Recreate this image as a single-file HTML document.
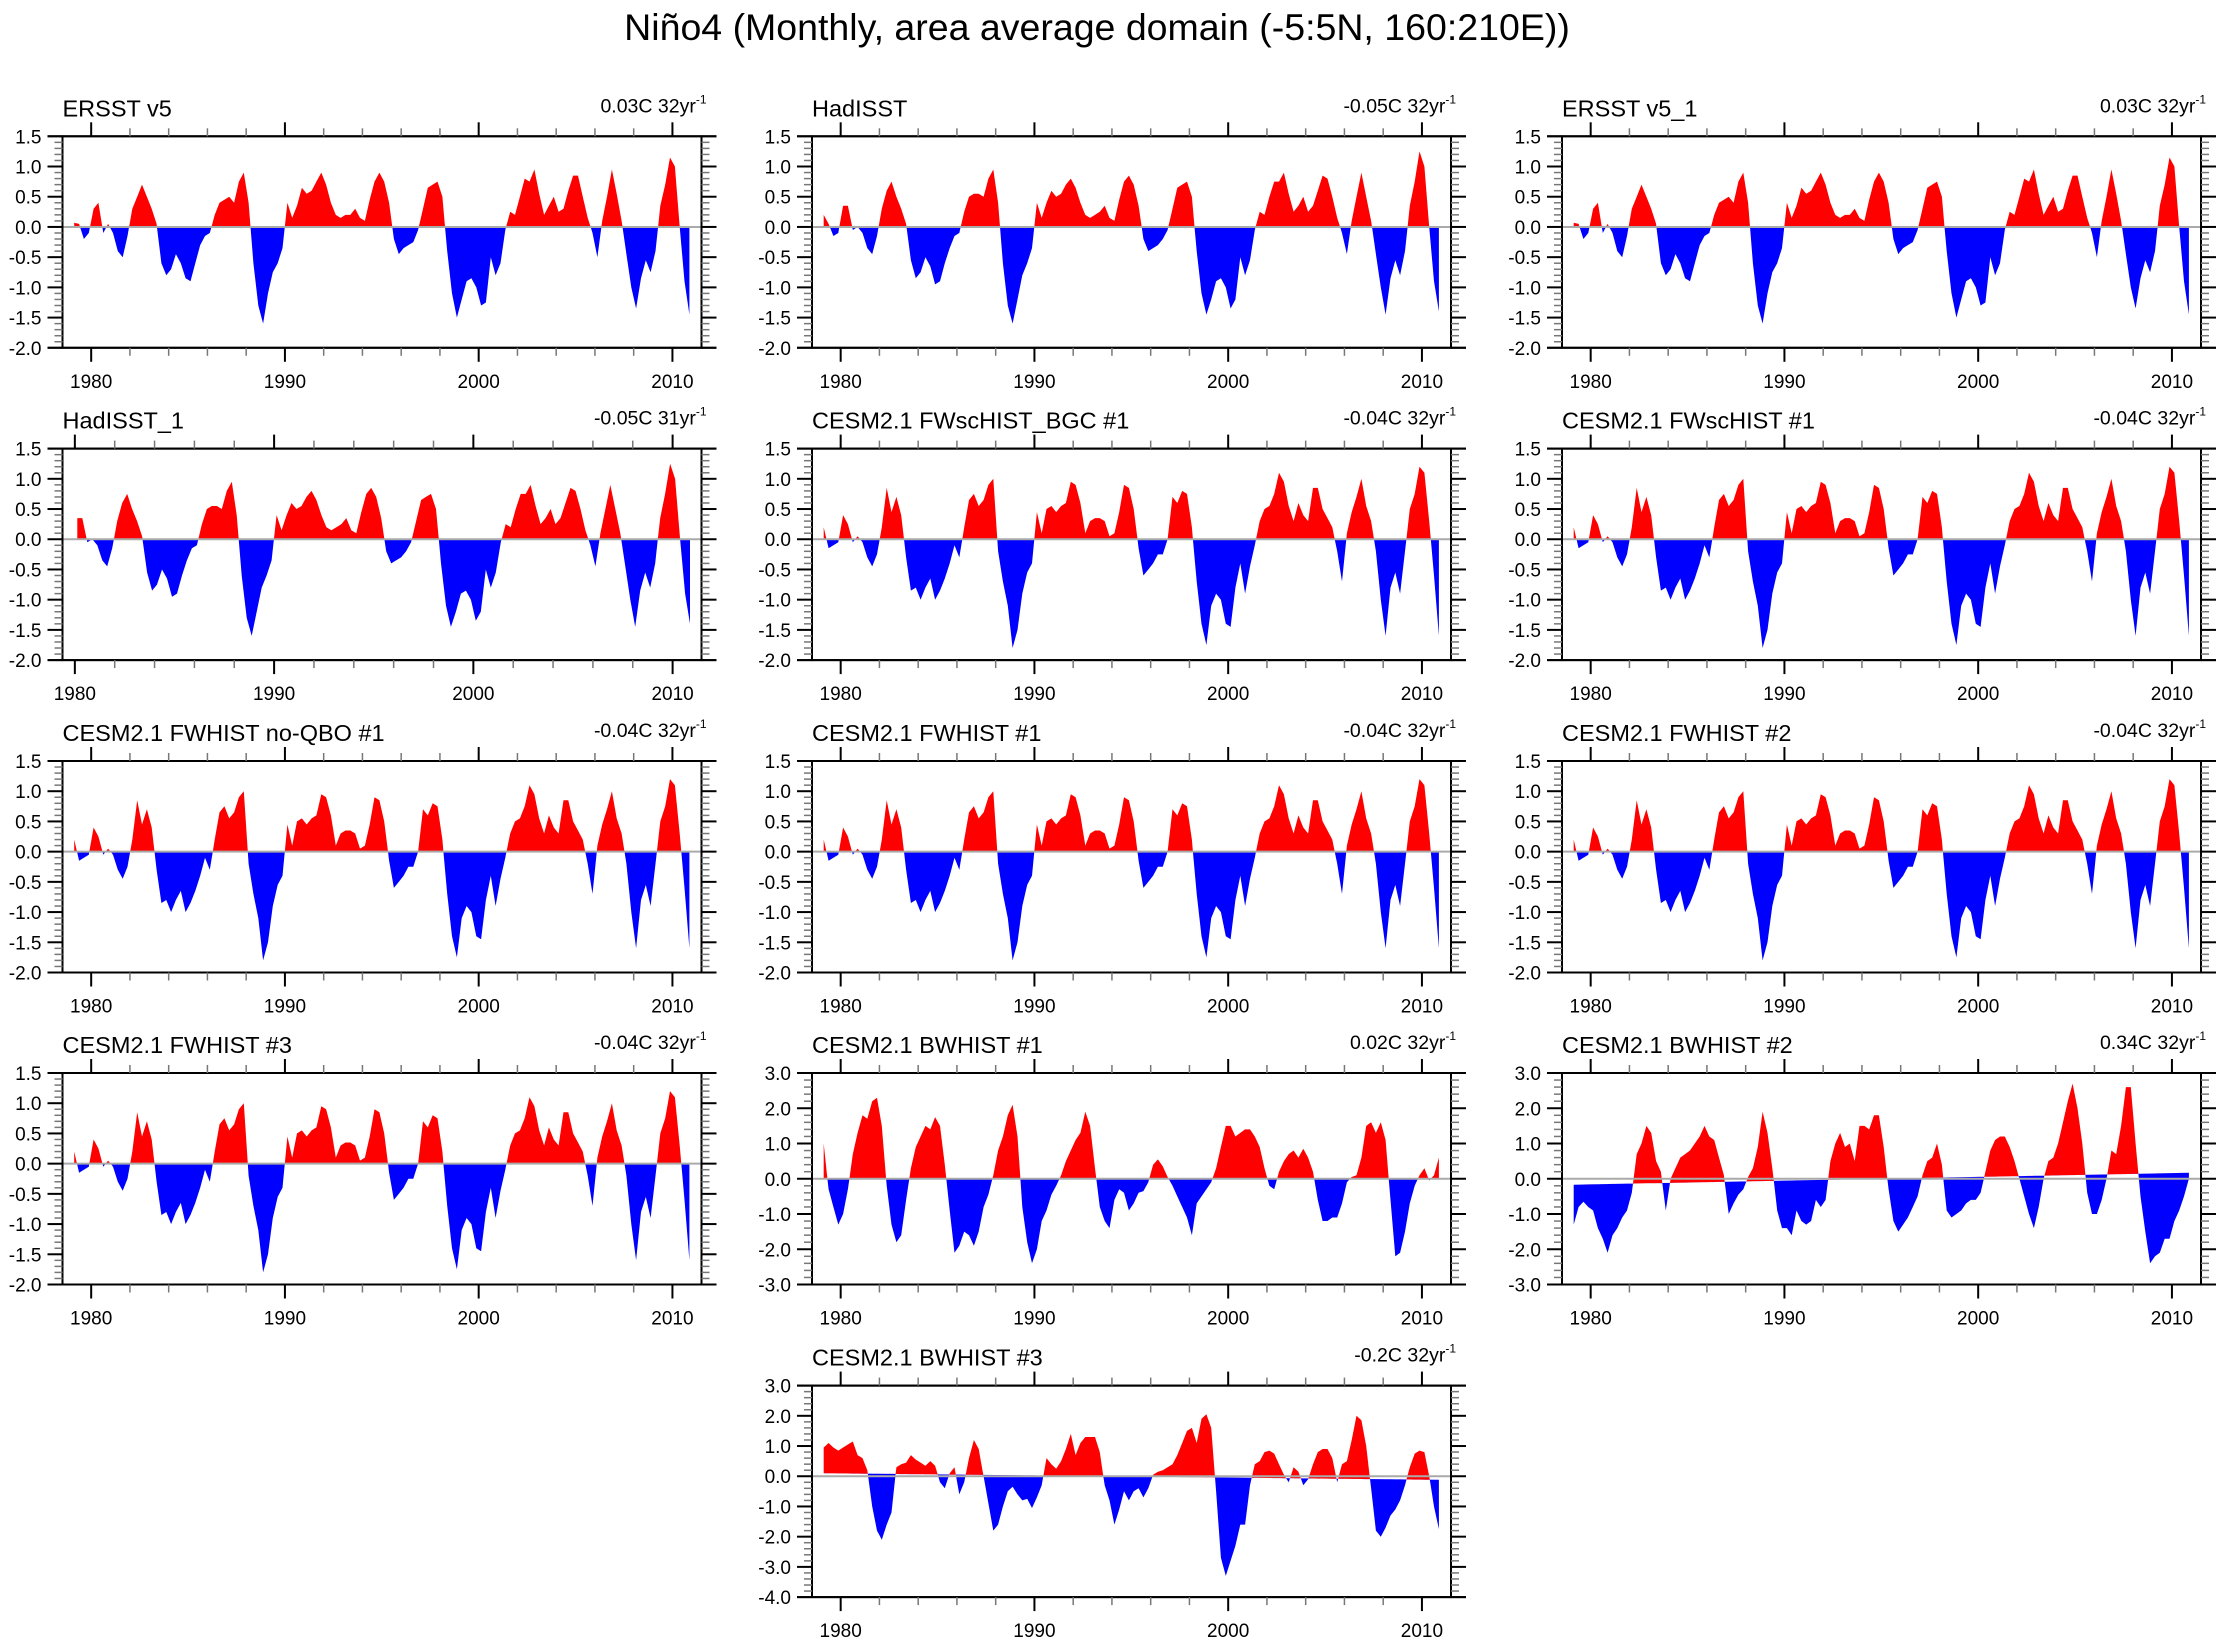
<!DOCTYPE html>
<html><head><meta charset="utf-8"><title>Niño4 monthly</title>
<style>
html,body{margin:0;padding:0;background:#fff;}
svg{display:block;font-family:"Liberation Sans",Arial,sans-serif;}
</style></head>
<body>
<svg id="fig" width="2226" height="1647" viewBox="0 0 2226 1647" xmlns="http://www.w3.org/2000/svg">
<rect x="0" y="0" width="2226" height="1647" fill="#fff"/>
<text x="1097" y="40" text-anchor="middle" font-size="37.5" fill="#000">Niño4 (Monthly, area average domain (-5:5N, 160:210E))</text>
</svg>
<script>
// quarterly values (Jan-Mar, Apr-Jun, Jul-Sep, Oct-Dec), 1979-2010
const ersst = [0.07,0.05,-0.2,-0.1, 0.3,0.4,-0.1,0.05, -0.1,-0.4,-0.5,-0.15, 0.3,0.5,0.7,0.5, 0.3,0.05,-0.6,-0.8,
 -0.7,-0.45,-0.6,-0.85, -0.9,-0.6,-0.3,-0.15, -0.1,0.2,0.4,0.45, 0.5,0.4,0.75,0.9, 0.4,-0.6,-1.3,-1.6,
 -1.1,-0.75,-0.6,-0.35, 0.4,0.15,0.35,0.65, 0.55,0.6,0.75,0.9, 0.7,0.4,0.2,0.15, 0.2,0.2,0.3,0.15,
 0.1,0.45,0.75,0.9, 0.75,0.4,-0.2,-0.45, -0.35,-0.3,-0.25,-0.05, 0.3,0.65,0.7,0.75, 0.5,-0.4,-1.1,-1.5,
 -1.2,-0.9,-0.85,-1.0, -1.3,-1.25,-0.5,-0.8, -0.6,-0.05,0.25,0.2, 0.5,0.8,0.75,0.95, 0.55,0.2,0.35,0.5,
 0.25,0.3,0.6,0.85, 0.85,0.5,0.15,-0.1, -0.5,0.1,0.5,0.95, 0.55,0.1,-0.45,-1.0, -1.35,-0.85,-0.55,-0.75,
 -0.4,0.35,0.7,1.15, 1.0,0.0,-0.9,-1.45];
const hadisst = [0.2,0.05,-0.15,-0.1, 0.35,0.35,-0.05,0.0, -0.1,-0.35,-0.45,-0.15, 0.3,0.6,0.75,0.5, 0.3,0.05,-0.55,-0.85,
 -0.75,-0.5,-0.65,-0.95, -0.9,-0.6,-0.35,-0.15, -0.1,0.25,0.5,0.55, 0.55,0.5,0.8,0.95, 0.4,-0.6,-1.3,-1.6,
 -1.2,-0.8,-0.6,-0.35, 0.4,0.15,0.4,0.6, 0.5,0.55,0.7,0.8, 0.65,0.4,0.2,0.15, 0.2,0.25,0.35,0.15,
 0.1,0.45,0.75,0.85, 0.7,0.35,-0.2,-0.4, -0.35,-0.3,-0.2,-0.05, 0.3,0.65,0.7,0.75, 0.5,-0.4,-1.1,-1.45,
 -1.2,-0.9,-0.85,-1.0, -1.35,-1.2,-0.5,-0.8, -0.55,-0.05,0.25,0.2, 0.5,0.75,0.75,0.9, 0.55,0.25,0.35,0.5,
 0.25,0.35,0.6,0.85, 0.8,0.5,0.15,-0.1, -0.45,0.1,0.5,0.9, 0.5,0.1,-0.45,-1.0, -1.45,-0.85,-0.55,-0.8,
 -0.4,0.35,0.75,1.25, 1.0,0.0,-0.9,-1.4];
const fwhist = [0.2,-0.15,-0.1,-0.05, 0.4,0.25,-0.05,0.05, -0.05,-0.3,-0.45,-0.25, 0.2,0.85,0.45,0.7, 0.4,-0.3,-0.85,-0.8,
 -1.0,-0.8,-0.65,-1.0, -0.85,-0.65,-0.4,-0.1, -0.3,0.2,0.65,0.75, 0.55,0.65,0.9,1.0, -0.2,-0.7,-1.1,-1.8,
 -1.5,-0.9,-0.55,-0.4, 0.45,0.1,0.5,0.55, 0.45,0.55,0.6,0.95, 0.9,0.6,0.1,0.3, 0.35,0.35,0.3,0.05,
 0.1,0.45,0.9,0.85, 0.5,-0.15,-0.6,-0.5, -0.4,-0.25,-0.25,0.0, 0.7,0.6,0.8,0.75, 0.2,-0.7,-1.4,-1.75,
 -1.1,-0.9,-1.0,-1.4, -1.45,-0.8,-0.4,-0.9, -0.45,-0.1,0.3,0.5, 0.55,0.75,1.1,0.95, 0.55,0.3,0.6,0.4,
 0.3,0.85,0.85,0.5, 0.35,0.2,-0.2,-0.7, 0.1,0.45,0.7,1.0, 0.55,0.3,-0.2,-1.0, -1.6,-0.8,-0.55,-0.9,
 -0.2,0.5,0.75,1.2, 1.1,0.3,-0.6,-1.6];
const bwhist1 = [1.0,-0.3,-0.8,-1.3, -1.0,-0.3,0.7,1.3, 1.8,1.7,2.2,2.3, 1.5,-0.2,-1.3,-1.8, -1.6,-0.6,0.3,0.9,
 1.2,1.5,1.4,1.75, 1.5,0.4,-0.9,-2.1, -1.9,-1.5,-1.6,-1.9, -1.5,-0.8,-0.45,0.1, 0.8,1.2,1.8,2.1,
 1.2,-0.8,-1.8,-2.4, -2.0,-1.2,-0.9,-0.45, -0.2,0.1,0.5,0.8, 1.1,1.3,1.9,1.5, 0.3,-0.8,-1.2,-1.4,
 -0.6,-0.3,-0.4,-0.9, -0.7,-0.4,-0.35,-0.1, 0.4,0.55,0.35,0.05, -0.2,-0.5,-0.8,-1.1, -1.6,-0.7,-0.5,-0.3,
 -0.1,0.3,0.9,1.5, 1.5,1.2,1.3,1.4, 1.4,1.2,0.9,0.3, -0.2,-0.3,0.2,0.5, 0.7,0.8,0.6,0.85,
 0.6,0.2,-0.6,-1.2, -1.2,-1.1,-1.1,-0.7, -0.1,0.05,0.1,0.6, 1.5,1.6,1.3,1.6, 1.1,-0.6,-2.2,-2.1,
 -1.5,-0.7,-0.2,0.1, 0.3,-0.05,0.1,0.6];
const bwhist2 = [-1.3,-0.8,-0.65,-0.8, -0.9,-1.4,-1.7,-2.1, -1.6,-1.4,-1.1,-0.9, -0.4,0.7,1.0,1.5, 1.3,0.5,0.2,-0.9,
 0.0,0.3,0.6,0.7, 0.8,1.0,1.2,1.5, 1.2,1.1,0.6,0.1, -1.0,-0.7,-0.45,-0.3, 0.05,0.3,0.9,1.9,
 1.3,0.3,-0.9,-1.4, -1.4,-1.6,-0.9,-1.2, -1.3,-1.2,-0.6,-0.8, -0.6,0.5,1.0,1.3, 0.9,1.0,0.5,1.5,
 1.5,1.4,1.8,1.8, 0.9,-0.3,-1.2,-1.5, -1.3,-1.1,-0.8,-0.5, 0.1,0.5,0.6,1.0, 0.4,-0.9,-1.1,-1.0,
 -0.9,-0.7,-0.6,-0.6, -0.4,0.2,0.8,1.1, 1.2,1.2,0.9,0.5, 0.0,-0.5,-1.0,-1.4, -0.8,0.0,0.5,0.6,
 1.0,1.6,2.2,2.7, 2.0,1.0,-0.4,-1.0, -1.0,-0.6,0.0,0.8, 0.7,1.5,2.6,2.6, 1.0,-0.5,-1.5,-2.4,
 -2.2,-2.1,-1.7,-1.7, -1.2,-0.9,-0.5,0.0];
const bwhist3 = [0.95,1.1,0.95,0.85, 0.95,1.05,1.15,0.7, 0.6,0.2,-1.0,-1.8, -2.1,-1.6,-1.2,0.3, 0.4,0.45,0.7,0.55,
 0.45,0.35,0.5,0.35, -0.2,-0.4,0.1,0.3, -0.6,-0.2,0.6,1.2, 0.9,0.0,-0.9,-1.8, -1.6,-1.0,-0.5,-0.35,
 -0.6,-0.8,-0.75,-1.05, -0.7,-0.3,0.6,0.4, 0.25,0.5,0.9,1.4, 0.7,1.1,1.3,1.3, 1.3,0.8,-0.3,-0.8,
 -1.6,-1.1,-0.5,-0.8, -0.5,-0.4,-0.7,-0.4, 0.05,0.15,0.2,0.3, 0.4,0.7,1.1,1.5, 1.6,1.1,1.9,2.05,
 1.6,-0.5,-2.7,-3.3, -2.8,-2.3,-1.6,-1.6, -0.3,0.4,0.5,0.8, 0.85,0.75,0.4,0.05, -0.2,0.3,0.15,-0.3,
 -0.1,0.4,0.8,0.9, 0.9,0.6,-0.2,0.4, 0.5,1.2,2.0,1.85, 1.0,-0.4,-1.8,-2.0, -1.7,-1.3,-1.1,-0.8,
 -0.3,0.3,0.75,0.85, 0.8,0.0,-1.0,-1.75];
const obsTicks = [-2.0,-1.5,-1.0,-0.5,0.0,0.5,1.0,1.5];
const bwTicks = [-3.0,-2.0,-1.0,0.0,1.0,2.0,3.0];
const bw3Ticks = [-4.0,-3.0,-2.0,-1.0,0.0,1.0,2.0,3.0];
const yearTicks = [1980,1990,2000,2010];
const titles = ["ERSST v5","HadISST","ERSST v5_1","HadISST_1","CESM2.1 FWscHIST_BGC #1","CESM2.1 FWscHIST #1",
 "CESM2.1 FWHIST no-QBO #1","CESM2.1 FWHIST #1","CESM2.1 FWHIST #2","CESM2.1 FWHIST #3","CESM2.1 BWHIST #1","CESM2.1 BWHIST #2","CESM2.1 BWHIST #3"];
const trendLabels = ["0.03C 32yr","-0.05C 32yr","0.03C 32yr","-0.05C 31yr","-0.04C 32yr","-0.04C 32yr",
 "-0.04C 32yr","-0.04C 32yr","-0.04C 32yr","-0.04C 32yr","0.02C 32yr","0.34C 32yr","-0.2C 32yr"];
const trendStart = [0,0,0,0,0,0,0,0,0,0,0,-0.17,0.1];
const trendEnd   = [0,0,0,0,0,0,0,0,0,0,0,0.17,-0.12];
</script>
<script>
const NS="http://www.w3.org/2000/svg";
const svg=document.getElementById('fig');
function mk(tag,attrs,parent){const e=document.createElementNS(NS,tag);for(const k in attrs)e.setAttribute(k,attrs[k]);(parent||svg).appendChild(e);return e;}
const colX=[62.5,812,1562], rowY=[136.3,448.6,761,1073,1385.6], PW=639, PH=211.5;
const panels=[
 {s:ersst,start:1979,t:obsTicks,ymin:-2,ymax:1.5,minor:0.1},
 {s:hadisst,start:1979,t:obsTicks,ymin:-2,ymax:1.5,minor:0.1},
 {s:ersst,start:1979,t:obsTicks,ymin:-2,ymax:1.5,minor:0.1},
 {s:hadisst.slice(4),start:1980,t:obsTicks,ymin:-2,ymax:1.5,minor:0.1,xmin:1979.38,xmax:2011.45},
 {s:fwhist,start:1979,t:obsTicks,ymin:-2,ymax:1.5,minor:0.1},
 {s:fwhist,start:1979,t:obsTicks,ymin:-2,ymax:1.5,minor:0.1},
 {s:fwhist,start:1979,t:obsTicks,ymin:-2,ymax:1.5,minor:0.1},
 {s:fwhist,start:1979,t:obsTicks,ymin:-2,ymax:1.5,minor:0.1},
 {s:fwhist,start:1979,t:obsTicks,ymin:-2,ymax:1.5,minor:0.1},
 {s:fwhist,start:1979,t:obsTicks,ymin:-2,ymax:1.5,minor:0.1},
 {s:bwhist1,start:1979,t:bwTicks,ymin:-3,ymax:3,minor:0.2},
 {s:bwhist2,start:1979,t:bwTicks,ymin:-3,ymax:3,minor:0.2},
 {s:bwhist3,start:1979,t:bw3Ticks,ymin:-4,ymax:3,minor:0.2}
];
panels.forEach((p,k)=>{
 const col=k<12?k%3:1, row=k<12?Math.floor(k/3):4;
 const L=colX[col], T=rowY[row], W=PW, H=PH;
 const xmin=p.xmin||1978.52, xmax=p.xmax||2011.5;
 const X=t=>L+(t-xmin)/(xmax-xmin)*W;
 const Y=v=>T+(p.ymax-v)/(p.ymax-p.ymin)*H;
 const tr=t=>trendStart[k]+(trendEnd[k]-trendStart[k])*(t-1979)/32;
 const g=mk('g',{});
 
 
 const pts=[];
 for(let i=0;i<p.s.length;i++){
  const t=p.start+(i+0.5)/4, v=p.s[i];
  pts.push([t,v]);
  if(i<p.s.length-1){
   const t2=p.start+(i+1.5)/4, v2=p.s[i+1];
   const d1=v-tr(t), d2=v2-tr(t2);
   if(d1*d2<0){const f=d1/(d1-d2);const tc=t+f*(t2-t);pts.push([tc,tr(tc)]);}
  }
 }
 const t0=pts[0][0], tn=pts[pts.length-1][0];
 function area(fn){
  let d='M'+X(t0).toFixed(1)+','+Y(tr(t0)).toFixed(1);
  pts.forEach(q=>{d+='L'+X(q[0]).toFixed(1)+','+Y(fn(q[1],tr(q[0]))).toFixed(1);});
  d+='L'+X(tn).toFixed(1)+','+Y(tr(tn)).toFixed(1)+'Z';
  return d;
 }
 const red=mk('path',{d:area(Math.max),fill:'#ff0000',stroke:'none'},g);
 
 
 const blue=mk('path',{d:area(Math.min),fill:'#0000ff',stroke:'none'},g);
 
 
 const zl=mk('line',{x1:L,x2:L+W,y1:Y(0),y2:Y(0),stroke:'#aaaaaa','stroke-width':2},g);
 
 
 const fr=mk('rect',{x:L,y:T,width:W,height:H,fill:'none',stroke:'#000','stroke-width':2},g);
 
 
 mk('line',{x1:L-15,x2:L+W+15,y1:T,y2:T,stroke:'#000','stroke-width':2},g);
 mk('line',{x1:L-15,x2:L+W+15,y1:T+H,y2:T+H,stroke:'#000','stroke-width':2},g);
 const nMin=Math.round((p.ymax-p.ymin)/p.minor);
 for(let i=0;i<=nMin;i++){const v=p.ymin+i*p.minor;const y=Y(v);
  mk('line',{x1:L-8,x2:L,y1:y,y2:y,stroke:'#777','stroke-width':1.5},g);
  mk('line',{x1:L+W,x2:L+W+8,y1:y,y2:y,stroke:'#777','stroke-width':1.5},g);}
 p.t.forEach(v=>{const y=Y(v);
  mk('line',{x1:L-15,x2:L,y1:y,y2:y,stroke:'#000','stroke-width':2},g);
  mk('line',{x1:L+W,x2:L+W+15,y1:y,y2:y,stroke:'#000','stroke-width':2},g);
  const tl=mk('text',{x:L-21,y:y+7,'text-anchor':'end','font-size':19,fill:'#000'},g);
  tl.textContent=v.toFixed(1);
  
  
 });
 for(let yr=1982;yr<2010;yr+=2){if(yr%10===0)continue;const x=X(yr);
  mk('line',{x1:x,x2:x,y1:T-8,y2:T,stroke:'#777','stroke-width':1.5},g);
  mk('line',{x1:x,x2:x,y1:T+H,y2:T+H+8,stroke:'#777','stroke-width':1.5},g);}
 yearTicks.forEach(yr=>{const x=X(yr);
  mk('line',{x1:x,x2:x,y1:T-14,y2:T,stroke:'#000','stroke-width':2},g);
  mk('line',{x1:x,x2:x,y1:T+H,y2:T+H+14,stroke:'#000','stroke-width':2},g);
  const xl=mk('text',{x:x,y:T+H+40,'text-anchor':'middle','font-size':19,fill:'#000'},g);
  xl.textContent=yr;
  
  
 });
 const tt=mk('text',{x:L,y:T-20,'font-size':23.5,fill:'#000'},g);
 tt.textContent=titles[k];
 
 
 const rl=mk('text',{x:L+W+5,y:T-24,'text-anchor':'end','font-size':19.5,fill:'#000'},g);
 rl.textContent=trendLabels[k];
 const sup=mk('tspan',{'font-size':12,dy:-9},rl);
 sup.textContent='-1';
 
 
});
</script>
</body></html>
